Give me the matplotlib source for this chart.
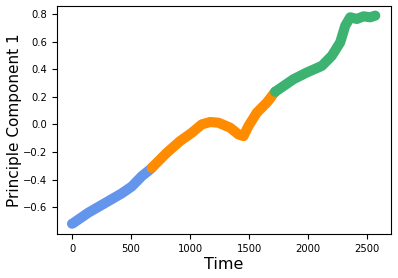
import matplotlib
matplotlib.use("Agg")
import matplotlib.pyplot as plt

# values, split into three phases
t_blue = [0, 11, 138, 280, 421, 506, 590, 661, 675]
pc_blue = [-0.72, -0.715, -0.64, -0.57, -0.50, -0.45, -0.376, -0.327, -0.315]

t_orange = [675, 802, 915, 1014, 1099, 1169, 1240, 1339, 1410, 1452, 1494, 1565, 1650, 1720]
pc_orange = [-0.315, -0.206, -0.121, -0.061, 0.0, 0.017, 0.012, -0.024, -0.073, -0.085,
             -0.012, 0.085, 0.158, 0.236]

t_green = [1720, 1875, 1989, 2116, 2200, 2271, 2314, 2356, 2412, 2469, 2525, 2568]
pc_green = [0.236, 0.327, 0.376, 0.424, 0.497, 0.594, 0.715, 0.776, 0.764, 0.783, 0.776, 0.788]

fig, ax = plt.subplots(figsize=(3.98, 2.78), dpi=100)
fig.subplots_adjust(left=0.143, right=0.982, bottom=0.158, top=0.978)

style = dict(linewidth=7.3, solid_capstyle="round", solid_joinstyle="round")
ax.plot(t_blue, pc_blue, color="cornflowerblue", **style)
ax.plot(t_orange, pc_orange, color="darkorange", **style)
ax.plot(t_green, pc_green, color="mediumseagreen", **style)

ax.set_xlim(-128, 2700)
ax.set_ylim(-0.795, 0.857)
ax.set_xticks([0, 500, 1000, 1500, 2000, 2500])
ax.set_yticks([-0.6, -0.4, -0.2, 0.0, 0.2, 0.4, 0.6, 0.8])
ax.tick_params(labelsize=7.2)
ax.set_xlabel("Time", fontsize=11.5, labelpad=2)
ax.set_ylabel("Principle Component 1", fontsize=11, labelpad=1)

fig.savefig("out.png", dpi=100)
